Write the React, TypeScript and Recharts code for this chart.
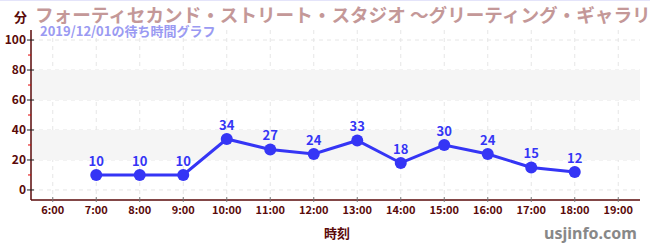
import React from 'react';
import { LineChart, Line, XAxis, YAxis, CartesianGrid, ReferenceArea, LabelList } from 'recharts';

const hours = [7, 8, 9, 10, 11, 12, 13, 14, 15, 16, 17, 18];
const waits = [10, 10, 10, 34, 27, 24, 33, 18, 30, 24, 15, 12];
const hourTicks = [6, 7, 8, 9, 10, 11, 12, 13, 14, 15, 16, 17, 18, 19];
const yTicks = [0, 10, 20, 30, 40, 50, 60, 70, 80, 90, 100];
const majorY = [0, 20, 40, 60, 80, 100];
const bands = [[20, 40], [60, 80]];

const TITLE = 'フォーティセカンド・ストリート・スタジオ ～グリーティング・ギャラリー～';
const SUBTITLE = '2019/12/01の待ち時間グラフ';

const FONT = '"Noto Sans CJK JP", "Noto Sans", sans-serif';
const AXIS = '#5a0a0a';
const BLUE = '#3535f5';

const data = hours.map((h, i) => ({ hour: h, wait: waits[i] }));

function YTick(props: any) {
  const { x, y, payload } = props;
  const major = payload.value % 20 === 0;
  if (!major) {
    return <line x1={x - 3} x2={x} y1={y} y2={y} stroke="#e00000" strokeWidth={1} />;
  }
  return (
    <g>
      <line x1={x - 4} x2={x + 3} y1={y} y2={y} stroke="#222" strokeWidth={1} />
      <text x={x - 5} y={y} dy={4} textAnchor="end" fill={AXIS} fontSize={12} fontWeight={700} fontFamily={FONT}>
        {payload.value}
      </text>
    </g>
  );
}

function XTick(props: any) {
  const { x, y, payload } = props;
  return (
    <g>
      <line x1={x} x2={x} y1={y - 3} y2={y + 2} stroke="#777" strokeWidth={1} />
      <text x={x} y={y} dy={14} textAnchor="middle" fill={AXIS} fontSize={11} fontWeight={700} fontFamily={FONT}>
        {payload.value}:00
      </text>
    </g>
  );
}

export default function App() {
  return (
    <div style={{ position: 'absolute', left: 0, top: 0, width: 650, height: 250, overflow: 'hidden', background: '#fff', fontFamily: FONT }}>
      <div style={{ position: 'absolute', left: 0, top: 0, width: 650, height: 1, background: '#e4e4fa' }} />
      <LineChart width={650} height={250} data={data} margin={{ top: 30, right: 10, bottom: 30, left: 0 }}>
        {bands.map(([a, b]) => (
          <ReferenceArea key={a} y1={a} y2={b} fill="#f5f5f5" fillOpacity={1} stroke="none" ifOverflow="hidden" />
        ))}
        <CartesianGrid
          stroke="#e6e6e6"
          strokeDasharray="4 4"
          horizontalValues={majorY}
          verticalValues={hourTicks}
        />
        <XAxis
          dataKey="hour"
          type="number"
          domain={[5.5, 19.5]}
          ticks={hourTicks}
          interval={0}
          stroke={AXIS}
          strokeWidth={1.5}
          tickLine={false}
          tickSize={0}
          tickMargin={0}
          height={20}
          tick={<XTick />}
        />
        <YAxis
          type="number"
          domain={[-6.7, 106.7]}
          ticks={yTicks}
          interval={0}
          width={31}
          stroke={AXIS}
          strokeWidth={1.5}
          tickLine={false}
          tickSize={0}
          tickMargin={0}
          tick={<YTick />}
        />
        <Line
          dataKey="wait"
          stroke={BLUE}
          strokeWidth={3}
          dot={{ r: 6, fill: BLUE, stroke: 'none' }}
          isAnimationActive={false}
        >
          <LabelList dataKey="wait" position="top" offset={9} fill={BLUE} fontSize={13} fontWeight={700} fontFamily={FONT} />
        </Line>
      </LineChart>
      <div style={{ position: 'absolute', left: 35, top: 3, width: 615, overflow: 'hidden', whiteSpace: 'nowrap', fontSize: 18.6, fontWeight: 700, color: '#c49898', lineHeight: '22px' }}>
        {TITLE}
      </div>
      <div style={{ position: 'absolute', left: 40, top: 22, whiteSpace: 'nowrap', fontSize: 13, fontWeight: 700, color: '#9a9af2', lineHeight: '17px' }}>
        {SUBTITLE}
      </div>
      <div style={{ position: 'absolute', left: 14, top: 8, fontSize: 13, fontWeight: 700, color: AXIS, lineHeight: '17px' }}>
        分
      </div>
      <div style={{ position: 'absolute', left: 324, top: 224, fontSize: 13, fontWeight: 700, color: AXIS, lineHeight: '17px' }}>
        時刻
      </div>
      <div style={{ position: 'absolute', left: 544, top: 222, fontSize: 16, fontWeight: 700, color: '#888', lineHeight: '22px', fontFamily: '"Noto Sans", sans-serif' }}>
        usjinfo.com
      </div>
    </div>
  );
}
